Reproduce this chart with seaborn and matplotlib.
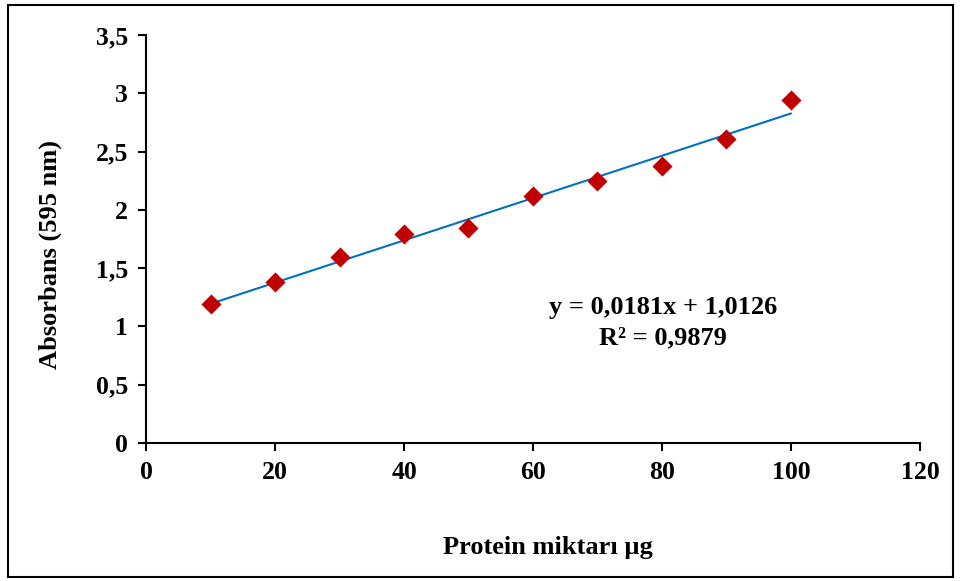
import numpy as np
import pandas as pd
import matplotlib
matplotlib.use("Agg")
import matplotlib.pyplot as plt
import seaborn as sns
from matplotlib.patches import Rectangle
from matplotlib.ticker import FuncFormatter

# ============================================================
# Data
# ============================================================

protein = [10, 20, 30, 40, 50, 60, 70, 80, 90, 100]
absorbance = [1.19, 1.385, 1.595, 1.79, 1.845, 2.12, 2.245, 2.38, 2.61, 2.945]
equation_text = "y = 0,0181x + 1,0126"
r2_text = "R² = 0,9879"

df = pd.DataFrame({"protein": protein, "absorbance": absorbance})

# linear trendline
slope, intercept = np.polyfit(df["protein"], df["absorbance"], 1)
df["fit"] = slope * df["protein"] + intercept

# ============================================================
# Plot
# ============================================================

sns.set_style("white")
plt.rcParams["font.family"] = ["Liberation Serif", "DejaVu Serif"]
plt.rcParams["font.weight"] = "bold"
plt.rcParams["text.color"] = "black"

fig = plt.figure(figsize=(9.6, 5.81), dpi=100)
ax = fig.add_axes([0.1521, 0.2375, 0.8062, 0.7023])

sns.lineplot(data=df, x="protein", y="fit", color="#0070C0",
             linewidth=1.5, ax=ax, zorder=2)
sns.scatterplot(data=df, x="protein", y="absorbance", marker="D",
                s=105, color="#C00000", edgecolor="#C00000",
                linewidth=0, ax=ax, zorder=3)

ax.set_xlim(0, 120)
ax.set_ylim(0, 3.5)
ax.set_xticks(np.arange(0, 121, 20))
ax.set_yticks(np.arange(0, 3.51, 0.5))

comma = FuncFormatter(lambda v, p: f"{v:g}".replace(".", ","))
ax.yaxis.set_major_formatter(comma)
ax.xaxis.set_major_formatter(comma)

for side in ["top", "right"]:
    ax.spines[side].set_visible(False)
for side in ["left", "bottom"]:
    ax.spines[side].set_color("black")
    ax.spines[side].set_linewidth(1.5)

ax.tick_params(axis="both", which="major", direction="out", length=6,
               width=1.5, color="black", labelcolor="black",
               labelsize=18.5, pad=7, bottom=True, left=True)
for lbl in ax.get_xticklabels() + ax.get_yticklabels():
    lbl.set_fontweight("bold")

ax.set_xlabel("")
ax.set_ylabel("")
fig.text(0.571, 0.0585, "Protein miktarı µg", ha="center", va="center",
         fontsize=19, fontweight="bold", color="black")
fig.text(0.052, 0.5628, "Absorbans (595 nm)", ha="center", va="center",
         rotation=90, fontsize=19, fontweight="bold", color="black")

ax.text(80.2, 1.165, equation_text, ha="center", va="center",
        fontsize=19, fontweight="bold", color="black")
ax.text(80.2, 0.905, r2_text, ha="center", va="center",
        fontsize=19, fontweight="bold", color="black")

# outer frame
fig.patches.append(Rectangle((0.0083, 0.0069), 0.984, 0.9845,
                             transform=fig.transFigure, fill=False,
                             edgecolor="black", linewidth=1.5))

plt.savefig("out.png", dpi=100)
plt.close()
